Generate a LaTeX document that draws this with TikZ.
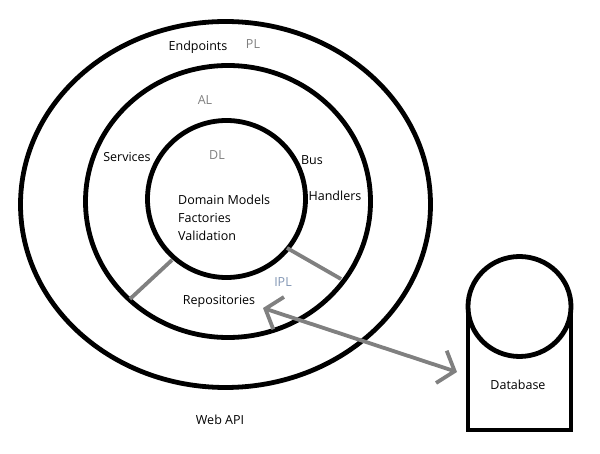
\documentclass[tikz,border=0pt]{standalone}
\usepackage{fontspec}
\setmainfont{Open Sans}
\usetikzlibrary{arrows.meta}
\definecolor{lbl}{RGB}{128,128,128}
\definecolor{ipl}{RGB}{130,150,180}
\definecolor{conn}{RGB}{128,128,128}
\tikzset{
  ring/.style={draw=black, line width=4.8pt},
  txt/.style={font=\fontsize{12.5}{14}\selectfont, inner sep=0pt, text=black},
  layer/.style={font=\fontsize{12.5}{14}\selectfont, inner sep=0pt, text=lbl},
  divider/.style={draw=conn, line width=3.8pt},
  link/.style={draw=conn, line width=3.8pt, {Straight Barb[length=14pt,width=34pt]}-{Straight Barb[length=14pt,width=34pt]}}
}
\begin{document}
\begin{tikzpicture}[x=1pt,y=-1pt]
\useasboundingbox (0,0) rectangle (600,454);
% rings
\draw[ring] (225.5,204.5) ellipse [x radius=205, y radius=183];
\draw[ring] (228,201.5) ellipse [x radius=142.5, y radius=136];
\draw[ring] (226.5,199) ellipse [x radius=79, y radius=78.5];
% dividers
\coordinate (d1a) at (172,260);
\coordinate (d1b) at (130,299);
\coordinate (d2a) at (287,248);
\coordinate (d2b) at (341,279);
\draw[divider] (d1a) -- (d1b);
\draw[divider] (d2a) -- (d2b);
% database
\draw[ring] (468,306) -- (468,430) -- (571,430) -- (571,306);
\draw[ring, fill=white] (519.5,306.5) ellipse [x radius=51.5, y radius=50];
% labels
\node[txt] (endpoints) at (198,47) {Endpoints};
\node[layer] (pl) at (253,44) {PL};
\node[layer] (al) at (205,100) {AL};
\node[txt] (services) at (127,157) {Services};
\node[layer] (dl) at (217,155) {DL};
\node[txt] (bus) at (312,160) {Bus};
\node[txt] (handlers) at (335,196) {Handlers};
\node[txt, anchor=west, align=left, font=\fontsize{12.5}{18}\selectfont] (domain) at (178,218) {Domain Models\\Factories\\Validation};
\node[layer, text=ipl] (iplbl) at (283,282) {IPL};
\node[txt] (repos) at (219,301) {Repositories};
\node[txt] (webapi) at (220,420) {Web API};
\node[txt] (db) at (518,385) {Database};
% connector
\coordinate (arrA) at (263,308);
\coordinate (arrB) at (457,372);
\draw[link] (arrA) -- (arrB);
\end{tikzpicture}
\end{document}
